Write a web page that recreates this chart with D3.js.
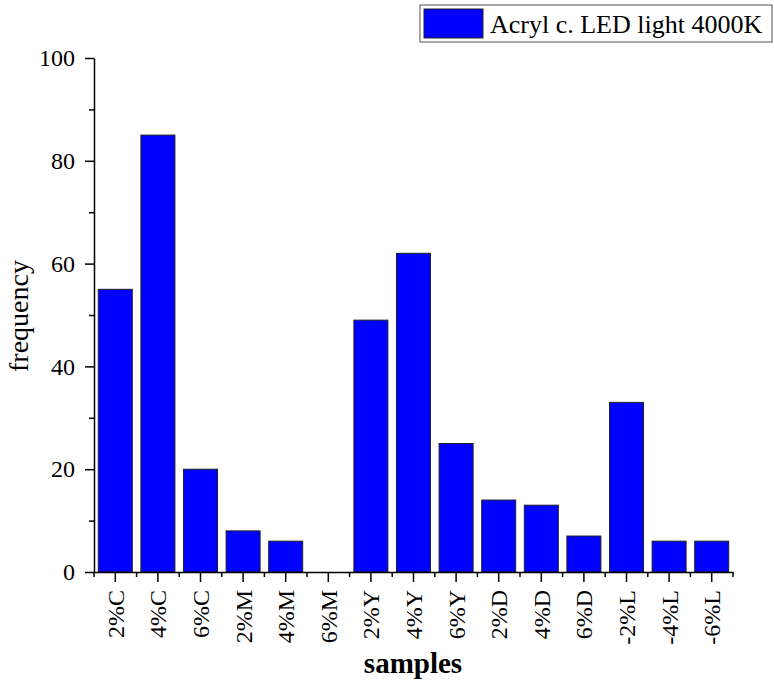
<!DOCTYPE html>
<html>
<head>
<meta charset="utf-8">
<script src="https://cdn.jsdelivr.net/npm/d3@7"></script>
<style>
  body { margin: 0; background: #fff; }
  text { font-family: "Liberation Serif", "Times New Roman", serif; fill: #000; }
</style>
</head>
<body>
<div id="chart"></div>
<script>
const layout = {
    width: 774,
    height: 685,
    marginLeft: 94,
    marginTop: 58,
    chartWidth: 639,
    chartHeight: 514
};

const samples = ["2%C", "4%C", "6%C", "2%M", "4%M", "6%M", "2%Y", "4%Y", "6%Y",
    "2%D", "4%D", "6%D", "-2%L", "-4%L", "-6%L"];
const frequency = [55, 85, 20, 8, 6, 0, 49, 62, 25, 14, 13, 7, 33, 6, 6];
const yTicks = [0, 20, 40, 60, 80, 100];
const yMinorTicks = [10, 30, 50, 70, 90];
const seriesName = "Acryl c. LED light 4000K";

let svg = d3.select("#chart").append("svg")
    .attr("width", layout.width)
    .attr("height", layout.height);

// one band per sample, bars are 34px wide inside each step
let stepScale = d3.scaleBand().domain(samples).range([0, layout.chartWidth]);
let yScale = d3.scaleLinear().domain([0, 100]).range([layout.chartHeight, 0]);
const barWidth = 34;

let g = svg.append("g")
    .attr("transform", `translate(${layout.marginLeft},${layout.marginTop})`);

// bars
g.selectAll("rect.bar").data(samples)
    .join("rect")
    .attr("class", "bar")
    .attr("x", (d) => stepScale(d) + (stepScale.step() - barWidth) / 2)
    .attr("width", barWidth)
    .attr("y", (d, i) => yScale(frequency[i]))
    .attr("height", (d, i) => layout.chartHeight - yScale(frequency[i]))
    .attr("fill", "#0000ff")
    .attr("stroke", "#222")
    .attr("stroke-width", 1);

// y axis
let yAxis = g.append("g")
    .call(d3.axisLeft(yScale).tickValues(yTicks).tickSize(9).tickPadding(10).tickSizeOuter(0));
yAxis.selectAll("text").attr("font-size", 24).style("font-family", "Liberation Serif");
yAxis.selectAll("line, .domain").attr("stroke", "#000").attr("stroke-width", 1.5);
g.append("g")
    .call(d3.axisLeft(yScale).tickValues(yMinorTicks).tickSize(5).tickFormat(""))
    .call(s => s.select(".domain").remove())
    .selectAll("line").attr("stroke", "#000").attr("stroke-width", 1.5);

// x axis
let xAxis = g.append("g")
    .attr("transform", `translate(0,${layout.chartHeight})`)
    .call(d3.axisBottom(stepScale).tickSize(10).tickSizeOuter(0).tickPadding(8));
xAxis.selectAll("line, .domain").attr("stroke", "#000").attr("stroke-width", 1.5);
xAxis.selectAll("text")
    .attr("font-size", 24)
    .style("font-family", "Liberation Serif")
    .attr("transform", "rotate(-90)")
    .attr("text-anchor", "end")
    .attr("x", -18)
    .attr("y", 0)
    .attr("dy", "0.35em");
// minor ticks at category boundaries
let bounds = samples.map(d => stepScale(d)).concat([layout.chartWidth]);
g.append("g")
    .attr("transform", `translate(0,${layout.chartHeight})`)
    .selectAll("line").data(bounds)
    .join("line")
    .attr("x1", d => d).attr("x2", d => d)
    .attr("y1", 0).attr("y2", 5)
    .attr("stroke", "#000")
    .attr("stroke-width", 1.5);

// axis titles
svg.append("text")
    .attr("transform", `translate(${413},${673})`)
    .attr("text-anchor", "middle")
    .attr("font-size", 29)
    .attr("font-weight", "bold")
    .text("samples");
svg.append("text")
    .attr("transform", `translate(${28},${316}) rotate(-90)`)
    .attr("text-anchor", "middle")
    .attr("font-size", 28)
    .text("frequency");

// legend
let legend = svg.append("g").attr("transform", "translate(420,5)");
legend.append("rect")
    .attr("width", 352).attr("height", 37)
    .attr("fill", "#fff").attr("stroke", "#555").attr("stroke-width", 1);
legend.append("rect")
    .attr("x", 4).attr("y", 4).attr("width", 59).attr("height", 29)
    .attr("fill", "#0000ff").attr("stroke", "#222").attr("stroke-width", 1);
legend.append("text")
    .attr("x", 70).attr("y", 28)
    .attr("font-size", 26)
    .text(seriesName);
</script>
</body>
</html>
